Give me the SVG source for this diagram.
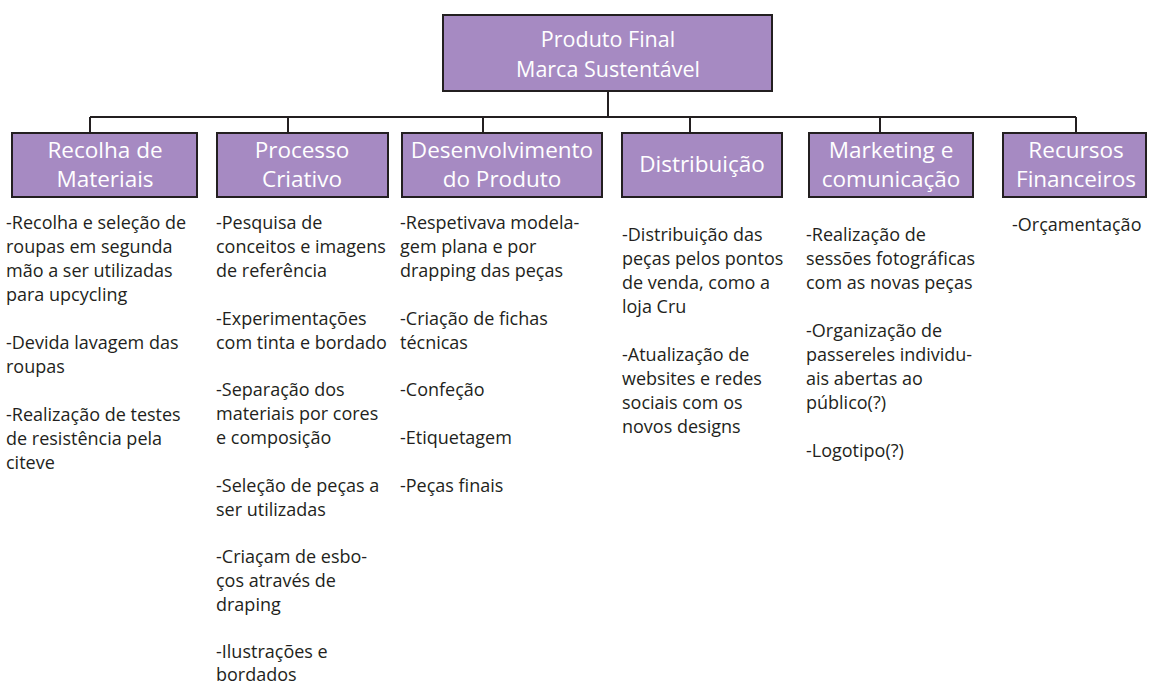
<svg xmlns="http://www.w3.org/2000/svg" width="1149" height="687" viewBox="0 0 1149 687">
<style>
.box{fill:#a68ac2;stroke:#231f20;stroke-width:2}
.lbl{font-family:"Open Sans","Noto Sans",sans-serif;font-size:22.5px;fill:#ffffff;text-anchor:middle}
.top{font-size:21.5px}
.body{font-family:"Open Sans","Noto Sans",sans-serif;font-size:18px;fill:#231f20}
.conn{stroke:#231f20;stroke-width:2;fill:none}
</style>
<rect width="1149" height="687" fill="#ffffff"/>
<g id="connectors">
<path class="conn" d="M608 91V117M90 117H1076M90 117V133M288 117V133M483 117V133M690 117V133M880 117V133M1076 117V133"/>
</g>
<g id="root">
<rect class="box" x="443" y="15" width="329" height="76"/>
<text class="lbl top" x="608" y="47">Produto Final</text>
<text class="lbl top" x="608" y="77">Marca Sustentável</text>
</g>
<g id="recolha">
<rect class="box" x="12" y="133" width="185" height="64"/>
<text class="lbl" x="105" y="158">Recolha de</text>
<text class="lbl" x="105" y="187">Materiais</text>
<text class="body"><tspan x="6" y="229">-Recolha e seleção de</tspan><tspan x="6" y="253">roupas em segunda</tspan><tspan x="6" y="277">mão a ser utilizadas</tspan><tspan x="6" y="301">para upcycling</tspan><tspan x="6" y="349">-Devida lavagem das</tspan><tspan x="6" y="373">roupas</tspan><tspan x="6" y="421">-Realização de testes</tspan><tspan x="6" y="445">de resistência pela</tspan><tspan x="6" y="469">citeve</tspan></text>
</g>
<g id="processo">
<rect class="box" x="217" y="133" width="171" height="64"/>
<text class="lbl" x="302" y="158">Processo</text>
<text class="lbl" x="302" y="187">Criativo</text>
<text class="body"><tspan x="216" y="229">-Pesquisa de</tspan><tspan x="216" y="253">conceitos e imagens</tspan><tspan x="216" y="277">de referência</tspan><tspan x="216" y="325">-Experimentações</tspan><tspan x="216" y="349">com tinta e bordado</tspan><tspan x="216" y="396">-Separação dos</tspan><tspan x="216" y="420">materiais por cores</tspan><tspan x="216" y="444">e composição</tspan><tspan x="216" y="492">-Seleção de peças a</tspan><tspan x="216" y="516">ser utilizadas</tspan><tspan x="216" y="563">-Criaçam de esbo-</tspan><tspan x="216" y="587">ços através de</tspan><tspan x="216" y="611">draping</tspan><tspan x="216" y="658">-Ilustrações e</tspan><tspan x="216" y="681">bordados</tspan></text>
</g>
<g id="desenvolvimento">
<rect class="box" x="402" y="133" width="200" height="64"/>
<text class="lbl" x="502" y="158">Desenvolvimento</text>
<text class="lbl" x="502" y="187">do Produto</text>
<text class="body"><tspan x="400" y="229">-Respetivava modela-</tspan><tspan x="400" y="253">gem plana e por</tspan><tspan x="400" y="277">drapping das peças</tspan><tspan x="400" y="325">-Criação de fichas</tspan><tspan x="400" y="349">técnicas</tspan><tspan x="400" y="396">-Confeção</tspan><tspan x="400" y="444">-Etiquetagem</tspan><tspan x="400" y="492">-Peças finais</tspan></text>
</g>
<g id="distribuicao">
<rect class="box" x="622" y="133" width="160" height="64"/>
<text class="lbl" x="702" y="172">Distribuição</text>
<text class="body"><tspan x="622" y="241">-Distribuição das</tspan><tspan x="622" y="265">peças pelos pontos</tspan><tspan x="622" y="289">de venda, como a</tspan><tspan x="622" y="313">loja Cru</tspan><tspan x="622" y="361">-Atualização de</tspan><tspan x="622" y="385">websites e redes</tspan><tspan x="622" y="409">sociais com os</tspan><tspan x="622" y="433">novos designs</tspan></text>
</g>
<g id="marketing">
<rect class="box" x="809" y="133" width="164" height="64"/>
<text class="lbl" x="891" y="158">Marketing e</text>
<text class="lbl" x="891" y="187">comunicação</text>
<text class="body"><tspan x="806" y="241">-Realização de</tspan><tspan x="806" y="265">sessões fotográficas</tspan><tspan x="806" y="289">com as novas peças</tspan><tspan x="806" y="337">-Organização de</tspan><tspan x="806" y="361">passereles individu-</tspan><tspan x="806" y="385">ais abertas ao</tspan><tspan x="806" y="409">público(?)</tspan><tspan x="806" y="457">-Logotipo(?)</tspan></text>
</g>
<g id="recursos">
<rect class="box" x="1003" y="133" width="143" height="64"/>
<text class="lbl" x="1076" y="158">Recursos</text>
<text class="lbl" x="1076" y="187">Financeiros</text>
<text class="body"><tspan x="1012" y="231">-Orçamentação</tspan></text>
</g>
</svg>
